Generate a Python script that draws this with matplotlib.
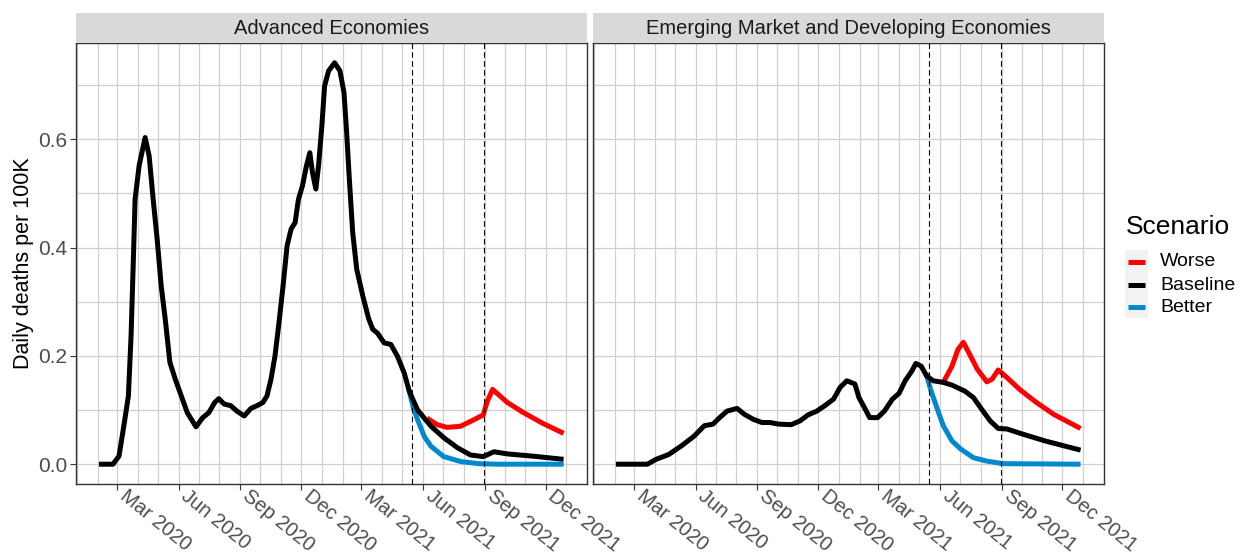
import matplotlib.pyplot as plt
import matplotlib.dates as mdates
import matplotlib.transforms as mtransforms
import numpy as np
import pandas as pd
from matplotlib.lines import Line2D
from matplotlib.patches import Rectangle
from matplotlib.ticker import FixedLocator, FormatStrFormatter

plt.rcParams['font.family'] = ['Liberation Sans', 'DejaVu Sans']

# Advanced economies
adv_base_dates = ['2020-02-03', '2020-02-24', '2020-03-04', '2020-03-12', '2020-03-18', '2020-03-22',
                  '2020-03-25', '2020-03-28', '2020-04-03', '2020-04-12', '2020-04-18', '2020-04-24',
                  '2020-04-30', '2020-05-06', '2020-05-12', '2020-05-19', '2020-05-27', '2020-06-05',
                  '2020-06-14', '2020-06-27', '2020-07-07', '2020-07-16', '2020-07-25', '2020-07-31',
                  '2020-08-08', '2020-08-18', '2020-08-27', '2020-09-07', '2020-09-17', '2020-09-26',
                  '2020-10-05', '2020-10-11', '2020-10-17', '2020-10-23', '2020-10-29', '2020-11-04',
                  '2020-11-10', '2020-11-16', '2020-11-22', '2020-11-27', '2020-12-03', '2020-12-09',
                  '2020-12-14', '2020-12-18', '2020-12-23', '2020-12-27', '2021-01-01', '2021-01-05',
                  '2021-01-11', '2021-01-20', '2021-01-28', '2021-02-03', '2021-02-07', '2021-02-11',
                  '2021-02-16', '2021-02-22', '2021-03-03', '2021-03-12', '2021-03-18', '2021-03-25',
                  '2021-04-04', '2021-04-14', '2021-04-24', '2021-05-04', '2021-05-11', '2021-05-15',
                  '2021-05-24', '2021-06-13', '2021-07-03', '2021-07-23', '2021-08-11', '2021-08-30',
                  '2021-09-15', '2021-10-05', '2021-11-11', '2021-12-28']
adv_base = [0.0, 0.0, 0.015, 0.077, 0.126, 0.237,
            0.36, 0.489, 0.551, 0.603, 0.569, 0.489,
            0.415, 0.329, 0.268, 0.188, 0.157, 0.126,
            0.095, 0.069, 0.086, 0.095, 0.114, 0.121,
            0.111, 0.108, 0.098, 0.089, 0.103, 0.108,
            0.114, 0.126, 0.157, 0.200, 0.262, 0.329,
            0.403, 0.434, 0.446, 0.489, 0.514, 0.551,
            0.575, 0.538, 0.508, 0.551, 0.625, 0.698,
            0.726, 0.741, 0.726, 0.686, 0.612, 0.526,
            0.428, 0.360, 0.311, 0.268, 0.249, 0.242,
            0.224, 0.221, 0.199, 0.168, 0.137, 0.125,
            0.100, 0.070, 0.048, 0.030, 0.017, 0.014,
            0.023, 0.019, 0.015, 0.009]

adv_worse_dates = ['2021-06-07', '2021-06-22', '2021-07-07', '2021-07-27', '2021-08-16', '2021-08-30',
                   '2021-09-05', '2021-09-13', '2021-10-05', '2021-10-28', '2021-11-26', '2021-12-28']
adv_worse = [0.085, 0.073, 0.068, 0.070, 0.082, 0.091,
             0.116, 0.138, 0.114, 0.096, 0.076, 0.057]

adv_better_dates = ['2021-05-11', '2021-05-18', '2021-05-24', '2021-06-03', '2021-06-13', '2021-07-02',
                    '2021-07-27', '2021-08-23', '2021-09-22', '2021-12-28']
adv_better = [0.137, 0.102, 0.082, 0.051, 0.033, 0.014,
              0.005, 0.001, 0.0, 0.0]

# Emerging market and developing economies
em_base_dates = ['2020-02-03', '2020-02-25', '2020-03-21', '2020-04-03', '2020-04-22', '2020-05-11',
                 '2020-05-30', '2020-06-14', '2020-06-27', '2020-07-07', '2020-07-18', '2020-07-24',
                 '2020-08-02', '2020-08-13', '2020-08-26', '2020-09-08', '2020-09-20', '2020-10-03',
                 '2020-10-22', '2020-11-04', '2020-11-16', '2020-11-29', '2020-12-11', '2020-12-24',
                 '2021-01-03', '2021-01-13', '2021-01-25', '2021-01-31', '2021-02-08', '2021-02-16',
                 '2021-02-28', '2021-03-10', '2021-03-22', '2021-04-01', '2021-04-10', '2021-04-20',
                 '2021-04-26', '2021-05-04', '2021-05-12', '2021-05-22', '2021-06-06', '2021-06-19',
                 '2021-07-08', '2021-07-21', '2021-08-02', '2021-08-15', '2021-08-27', '2021-09-09',
                 '2021-10-04', '2021-11-05', '2021-12-06', '2021-12-28']
em_base = [0.0, 0.0, 0.0, 0.009, 0.018, 0.034,
           0.052, 0.071, 0.074, 0.086, 0.098, 0.100,
           0.103, 0.092, 0.083, 0.077, 0.077, 0.074,
           0.073, 0.080, 0.091, 0.098, 0.108, 0.120,
           0.142, 0.154, 0.148, 0.123, 0.105, 0.086,
           0.086, 0.098, 0.120, 0.131, 0.154, 0.172,
           0.186, 0.181, 0.163, 0.154, 0.151, 0.146,
           0.135, 0.123, 0.102, 0.080, 0.066, 0.065,
           0.055, 0.043, 0.033, 0.026]

em_worse_dates = ['2021-06-06', '2021-06-19', '2021-06-28', '2021-07-06', '2021-07-14', '2021-07-27',
                  '2021-08-10', '2021-08-18', '2021-08-27', '2021-09-09', '2021-09-28', '2021-10-23',
                  '2021-11-18', '2021-12-28']
em_worse = [0.151, 0.181, 0.212, 0.225, 0.206, 0.175,
            0.152, 0.157, 0.174, 0.160, 0.138, 0.114,
            0.092, 0.066]

em_better_dates = ['2021-05-11', '2021-05-18', '2021-05-28', '2021-06-06', '2021-06-19', '2021-07-02',
                   '2021-07-21', '2021-08-09', '2021-09-03', '2021-12-28']
em_better = [0.169, 0.138, 0.102, 0.071, 0.043, 0.028,
             0.012, 0.006, 0.001, 0.0]

scenarios = ['Worse', 'Baseline', 'Better']
colors = {'Worse': '#FF0000', 'Baseline': '#000000', 'Better': '#0089CF'}
panel_titles = ['Advanced Economies', 'Emerging Market and Developing Economies']
event_dates = ['2021-05-15', '2021-08-31']

panels = [
    {'Worse': (adv_worse_dates, adv_worse), 'Baseline': (adv_base_dates, adv_base),
     'Better': (adv_better_dates, adv_better)},
    {'Worse': (em_worse_dates, em_worse), 'Baseline': (em_base_dates, em_base),
     'Better': (em_better_dates, em_better)},
]

# shared limits with 5% padding like ggplot's default expansion
all_dates = pd.to_datetime(adv_base_dates + em_base_dates)
x0, x1 = all_dates.min(), all_dates.max()
xpad = (x1 - x0) * 0.05
ymax = max(max(adv_base), max(em_base), max(adv_worse), max(em_worse))
ylim = (-0.05 * ymax, 1.05 * ymax)

fig = plt.figure(figsize=(12.43, 5.56), dpi=100)
grid_col = '#D0D0D0'
lefts = [0.0609, 0.4768]
width = 0.4112
bottom, height = 0.129, 0.7942
label_shift = mtransforms.ScaledTranslation(11 / 100, 6 / 100, fig.dpi_scale_trans)

for i, data in enumerate(panels):
    ax = fig.add_axes([lefts[i], bottom, width, height])
    for name in ['Worse', 'Better', 'Baseline']:
        d, v = data[name]
        ax.plot(pd.to_datetime(d), v, color=colors[name], lw=3.6,
                solid_capstyle='butt', solid_joinstyle='round', zorder=3)
    for ev in event_dates:
        ax.axvline(pd.Timestamp(ev), color='black', lw=0.8, ls=(0, (5, 3)), zorder=4)

    ax.set_xlim(x0 - xpad, x1 + xpad)
    ax.set_ylim(*ylim)
    ax.xaxis.set_major_locator(mdates.MonthLocator(bymonth=[3, 6, 9, 12]))
    ax.xaxis.set_minor_locator(mdates.MonthLocator())
    ax.xaxis.set_major_formatter(mdates.DateFormatter('%b %Y'))
    ax.yaxis.set_major_locator(FixedLocator([0.0, 0.2, 0.4, 0.6]))
    ax.yaxis.set_minor_locator(FixedLocator([0.1, 0.3, 0.5, 0.7]))
    ax.yaxis.set_major_formatter(FormatStrFormatter('%.1f'))
    ax.grid(True, which='both', color=grid_col, lw=0.9)
    ax.set_axisbelow(True)
    ax.tick_params(which='minor', length=0)
    ax.tick_params(which='major', length=4, width=0.8, color='#333333',
                   labelsize=15, labelcolor='#4D4D4D', pad=2)
    for lab in ax.get_xticklabels():
        lab.set_rotation(-39)
        lab.set_fontsize(14.5)
        lab.set_ha('left')
        lab.set_va('top')
        lab.set_rotation_mode('anchor')
        lab.set_transform(lab.get_transform() + label_shift)
    for s in ax.spines.values():
        s.set_color('#333333')
        s.set_linewidth(1.0)
    if i == 0:
        ax.set_ylabel('Daily deaths per 100K', fontsize=15.5, color='black', labelpad=3)
    else:
        ax.tick_params(axis='y', which='both', left=False, labelleft=False)

    # facet strip
    sax = fig.add_axes([lefts[i], bottom + height, width, 0.054])
    sax.set_facecolor('#D9D9D9')
    sax.set_xticks([])
    sax.set_yticks([])
    for s in sax.spines.values():
        s.set_visible(False)
    sax.text(0.5, 0.48, panel_titles[i], ha='center', va='center',
             fontsize=14.5, color='#1A1A1A', transform=sax.transAxes)

# legend
fig.text(0.906, 0.592, 'Scenario', fontsize=19, ha='left', va='center', color='black')
fig.add_artist(Rectangle((0.905, 0.428), 0.0185, 0.1223, transform=fig.transFigure,
                         facecolor='#F2F2F2', edgecolor='none'))
row_y = [0.5288, 0.4874, 0.4478]
for name, y in zip(scenarios, row_y):
    fig.add_artist(Line2D([0.9075, 0.9215], [y, y], transform=fig.transFigure,
                          color=colors[name], lw=3.6, solid_capstyle='butt'))
    fig.text(0.9332, y, name, fontsize=14, ha='left', va='center', color='black')

fig.savefig('out.png', dpi=100)
